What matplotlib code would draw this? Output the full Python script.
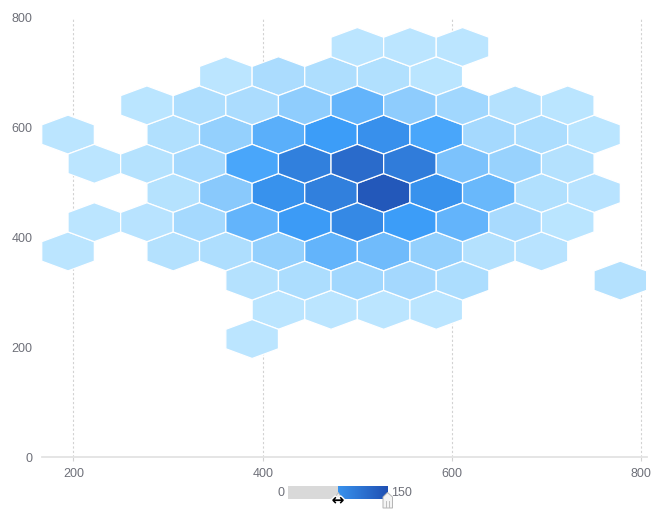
import numpy as np
import matplotlib
matplotlib.use("Agg")
import matplotlib.pyplot as plt
import matplotlib.patheffects as pe
from matplotlib.colors import LinearSegmentedColormap, Normalize
from matplotlib.patches import Polygon, Rectangle

plt.rcParams["font.family"] = ["Liberation Sans", "DejaVu Sans"]

# hex bin centres (data units) and counts, one line per hex row, top to bottom
hex_x = [500, 556, 611,
         361, 417, 472, 528, 583,
         278, 333, 389, 444, 500, 556, 611, 667, 722,
         194, 306, 361, 417, 472, 528, 583, 639, 694, 750,
         222, 278, 333, 389, 444, 500, 556, 611, 667, 722,
         306, 361, 417, 472, 528, 583, 639, 694, 750,
         222, 278, 333, 389, 444, 500, 556, 611, 667, 722,
         194, 306, 361, 417, 472, 528, 583, 639, 694,
         389, 444, 500, 556, 611, 778,
         417, 472, 528, 583,
         389]
hex_y = ([746] * 3 + [692] * 5 + [639] * 9 + [586] * 10 + [533] * 10 +
         [480] * 9 + [427] * 10 + [374] * 9 + [321] * 6 + [268] * 4 + [215])
hex_count = [3, 3, 3,
             3, 11, 9, 8, 4,
             4, 9, 11, 23, 43, 24, 15, 7, 4,
             3, 8, 21, 47, 62, 77, 55, 13, 10, 4,
             3, 6, 13, 55, 96, 119, 100, 32, 19, 7,
             6, 26, 75, 96, 141, 75, 40, 8, 5,
             3, 5, 13, 43, 64, 85, 62, 43, 12, 4,
             3, 7, 9, 21, 43, 37, 21, 7, 5,
             7, 10, 15, 14, 10, 7,
             3, 3, 3, 3,
             3]

x_ticks = [200, 400, 600, 800]
y_ticks = [0, 200, 400, 600, 800]
vmin, vmax = 0, 150
selected = (75, 150)

W, H = 659, 510
LABEL = "#6e7079"

cmap = LinearSegmentedColormap.from_list(
    "hexblue", [(0.0, "#c2e9ff"), (0.4, "#3d9ff9"), (1.0, "#2050b3")])
norm = Normalize(vmin, vmax)


def fig_box(x0, y0, x1, y1):
    # pixel box (top-left origin) -> figure fraction rect
    return [x0 / W, 1 - y1 / H, (x1 - x0) / W, (y1 - y0) / H]


fig = plt.figure(figsize=(W / 100, H / 100), dpi=100)
ax = fig.add_axes(fig_box(42.3, 18, 646.7, 458))

ax.hexbin(hex_x, hex_y, C=hex_count, reduce_C_function=np.sum,
          gridsize=(15, 8), extent=(27.7, 861.1, 55.2, 904.8),
          cmap=cmap, norm=norm, edgecolors="white", linewidths=0.9,
          clip_on=False, zorder=3)

ax.set_xlim(167.2, 805.6)
ax.set_ylim(0, 800)
ax.set_xticks(x_ticks)
ax.set_yticks(y_ticks)
ax.set_axisbelow(True)
ax.xaxis.grid(True, color="#d2d2d2", linestyle=(0, (2, 2)), linewidth=0.8)
for side in ("top", "right", "left"):
    ax.spines[side].set_visible(False)
ax.spines["bottom"].set_color("#e3e3e3")
ax.spines["bottom"].set_linewidth(1.3)
ax.tick_params(axis="x", length=3, width=0.8, color="#d2d2d2",
               labelcolor=LABEL, labelsize=9, pad=4)
ax.tick_params(axis="y", length=0, labelcolor=LABEL, labelsize=9, pad=7)

# visual map bar under the chart
cax = fig.add_axes(fig_box(288.3, 487.3, 387.3, 499.7))
cax.set_xlim(vmin, vmax)
cax.set_ylim(0, 1)
cax.axvspan(vmin, selected[0], color="#d9d9d9", lw=0)
cax.imshow(np.linspace(selected[0], selected[1], 200)[None, :], cmap=cmap,
           norm=norm, extent=(selected[0], selected[1], 0, 1), aspect="auto")
cax.axis("off")

fig.text(284 / W, 1 - 493.5 / H, "0", ha="right", va="center",
         color=LABEL, fontsize=9)
fig.text(391 / W, 1 - 493.5 / H, "150", ha="left", va="center",
         color=LABEL, fontsize=9)


def px(x, y):
    return (x / W, 1 - y / H)


# handles of the visual map
fig.patches.append(Polygon([px(334.5, 499.5), px(338.3, 493.5), px(342, 499.5)],
                           closed=True, transform=fig.transFigure,
                           facecolor="#eeeeee", edgecolor="#bbbbbb", lw=0.6))
fig.patches.append(Polygon([px(383, 509), px(383, 498), px(387.5, 493.5),
                            px(392.5, 498), px(392.5, 509)],
                           closed=True, transform=fig.transFigure,
                           facecolor="#f4f4f4", edgecolor="#b4b4b4", lw=0.7))
for hx in (386.3, 389.3):
    fig.add_artist(plt.Line2D([hx / W, hx / W], [1 - 501.5 / H, 1 - 507.5 / H],
                              color="#b4b4b4", lw=0.6))
fig.text(338 / W, 1 - 501.5 / H, "↔", ha="center", va="center",
         fontsize=11, fontweight="bold", color="black",
         family="DejaVu Sans",
         path_effects=[pe.withStroke(linewidth=2, foreground="white")])

fig.savefig("out.png", dpi=100)
